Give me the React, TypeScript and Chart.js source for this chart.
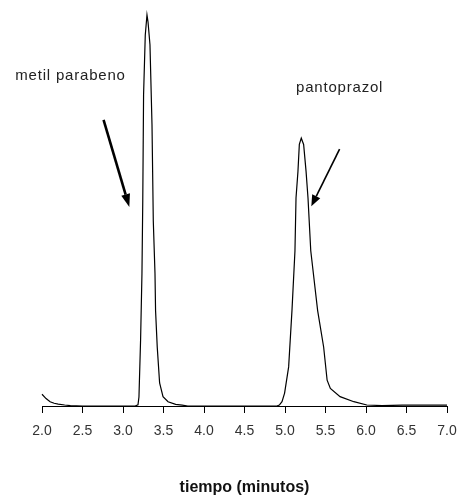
import React, { useEffect, useRef } from "react";
import { Chart, registerables } from "chart.js";

Chart.register(...registerables);

// Chromatogram: retention time (min) and detector signal (relative, peak 1 = 100)
const timeMin: number[] = [
  2.0, 2.05, 2.1, 2.15, 2.2, 2.28, 2.35, 2.5, 3.0, 3.15,
  3.185, 3.197, 3.217, 3.234, 3.244, 3.254, 3.275, 3.296, 3.309, 3.333,
  3.358, 3.374, 3.395, 3.402, 3.423, 3.452, 3.494, 3.556, 3.65, 3.73,
  3.8, 4.5, 4.9, 4.93, 4.963, 4.995, 5.045, 5.086, 5.123, 5.136,
  5.16, 5.177, 5.201, 5.23, 5.26, 5.284, 5.318, 5.403, 5.477, 5.52,
  5.56, 5.68, 5.85, 6.01, 6.2, 6.45, 6.7, 7.0,
];
const signal: number[] = [
  3.0, 1.9, 1.1, 0.7, 0.5, 0.25, 0.1, 0, 0, 0,
  0.3, 2.3, 16.8, 33.8, 52.4, 79.6, 94.9, 100, 98.2, 92.4,
  72, 47.3, 33.8, 24.4, 15, 5.9, 2.4, 1.1, 0.4, 0.2,
  0, 0, 0, 0.25, 1.1, 3.3, 10, 24.4, 39.7, 53.2,
  60, 66.9, 68.5, 66.9, 60, 53.2, 39.7, 24.4, 15.1, 6.6,
  4.5, 2.4, 1.1, 0.25, 0.1, 0.2, 0.2, 0.2,
];

const xTicks: number[] = [2.0, 2.5, 3.0, 3.5, 4.0, 4.5, 5.0, 5.5, 6.0, 6.5, 7.0];
const xTitle = "tiempo (minutos)";

// Annotations (data coordinates)
const peakLabels: string[] = ["metil parabeno", "pantoprazol"];
const peakLabelX: number[] = [1.67, 5.136];
const peakLabelY: number[] = [83.4, 80.2];
const arrowFromX: number[] = [2.76, 5.674];
const arrowFromY: number[] = [73.2, 65.7];
const arrowToX: number[] = [3.078, 5.325];
const arrowToY: number[] = [50.9, 51.1];

const annotationPlugin = {
  id: "peakAnnotations",
  afterDatasetsDraw(chart: any) {
    const { ctx, scales } = chart;
    const xs = scales.x;
    const ys = scales.y;
    ctx.save();
    ctx.fillStyle = "#222";
    ctx.font = "15px 'Liberation Sans', Arial, sans-serif";
    (ctx as any).letterSpacing = "0.8px";
    ctx.textAlign = "left";
    ctx.textBaseline = "alphabetic";
    peakLabels.forEach((t, i) => {
      ctx.fillText(t, xs.getPixelForValue(peakLabelX[i]), ys.getPixelForValue(peakLabelY[i]));
    });
    (ctx as any).letterSpacing = "0px";
    const widths = [2.6, 1.6];
    const headLen = [13, 11];
    const headHalf = [4.5, 4.5];
    arrowFromX.forEach((_, i) => {
      const x1 = xs.getPixelForValue(arrowFromX[i]);
      const y1 = ys.getPixelForValue(arrowFromY[i]);
      const x2 = xs.getPixelForValue(arrowToX[i]);
      const y2 = ys.getPixelForValue(arrowToY[i]);
      const ang = Math.atan2(y2 - y1, x2 - x1);
      const bx = x2 - headLen[i] * Math.cos(ang);
      const by = y2 - headLen[i] * Math.sin(ang);
      ctx.strokeStyle = "#000";
      ctx.fillStyle = "#000";
      ctx.lineWidth = widths[i];
      ctx.beginPath();
      ctx.moveTo(x1, y1);
      ctx.lineTo(bx, by);
      ctx.stroke();
      ctx.beginPath();
      ctx.moveTo(x2, y2);
      ctx.lineTo(bx + headHalf[i] * Math.sin(ang), by - headHalf[i] * Math.cos(ang));
      ctx.lineTo(bx - headHalf[i] * Math.sin(ang), by + headHalf[i] * Math.cos(ang));
      ctx.closePath();
      ctx.fill();
    });
    ctx.restore();
  },
};

export default function App() {
  const ref = useRef<HTMLCanvasElement | null>(null);
  useEffect(() => {
    document.body.style.margin = "0";
    if (!ref.current) return;
    const chart = new Chart(ref.current, {
      type: "line",
      data: {
        datasets: [
          {
            data: timeMin.map((t, i) => ({ x: t, y: signal[i] })),
            borderColor: "#000",
            borderWidth: 1.2,
            pointRadius: 0,
            tension: 0,
            fill: false,
            clip: false as any,
          },
        ],
      },
      options: {
        animation: false,
        responsive: false,
        maintainAspectRatio: false,
        layout: { padding: { left: 42, right: 14, top: 15, bottom: 0 } },
        plugins: { legend: { display: false }, tooltip: { enabled: false }, title: { display: false } },
        scales: {
          x: {
            type: "linear",
            min: 2,
            max: 7,
            afterBuildTicks: (axis: any) => {
              axis.ticks = xTicks.map((v) => ({ value: v }));
            },
            afterFit: (axis: any) => {
              axis.paddingLeft = 0;
              axis.paddingRight = 0;
            },
            border: { display: true, color: "#000", width: 1 },
            grid: {
              display: true,
              drawOnChartArea: false,
              drawTicks: true,
              tickLength: 7,
              color: "#000",
              lineWidth: 1,
            },
            ticks: {
              padding: 10,
              color: "#333",
              font: { family: "'Liberation Sans', Arial, sans-serif", size: 14 },
              maxRotation: 0,
              autoSkip: false,
              callback: (v: any) => Number(v).toFixed(1),
            },
            title: {
              display: true,
              text: xTitle,
              color: "#111",
              font: { family: "'Liberation Sans', Arial, sans-serif", size: 16, weight: "bold" },
              padding: { top: 28, bottom: 0 },
            },
          },
          y: { display: false, min: 0, max: 100 },
        },
      },
      plugins: [annotationPlugin],
    });
    return () => chart.destroy();
  }, []);
  return (
    <div style={{ width: 461, height: 497 }}>
      <canvas ref={ref} width={461} height={497} style={{ width: 461, height: 497, display: "block" }} />
    </div>
  );
}
